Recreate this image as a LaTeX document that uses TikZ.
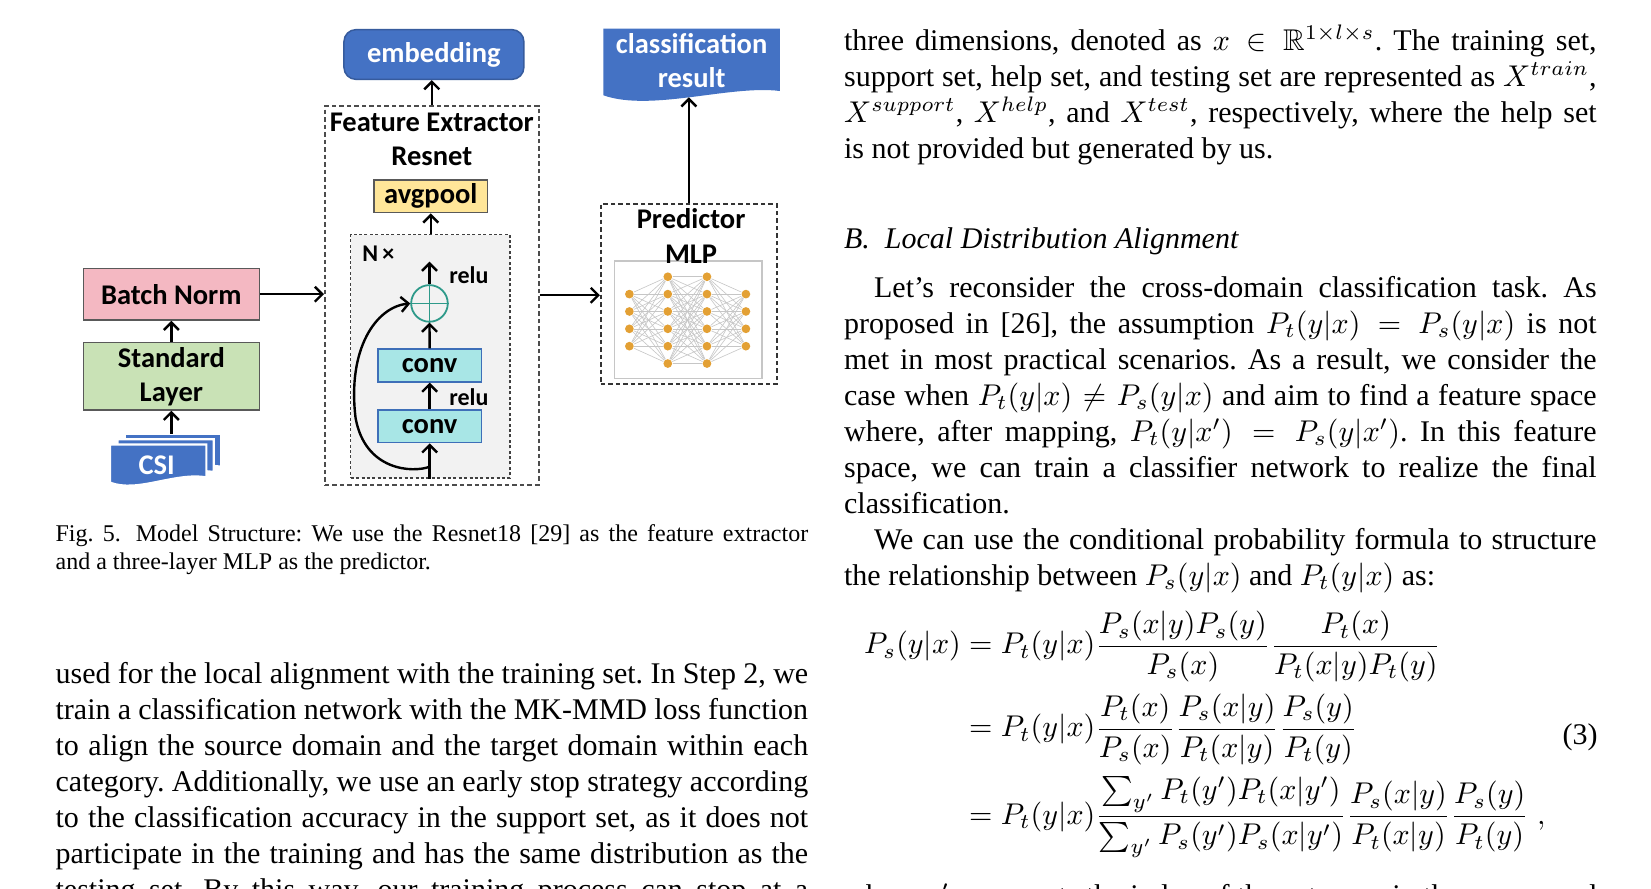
\documentclass[tikz,border=0pt]{standalone}
\usepackage{amsmath,amssymb}
\usepackage[no-math]{fontspec}
\setmainfont{Liberation Serif}
\newfontfamily\dgfont{Carlito}
\usetikzlibrary{positioning,arrows.meta}

\definecolor{cblue}{HTML}{4472C4}
\definecolor{cpink}{HTML}{F4B8C2}
\definecolor{cgreen}{HTML}{C9E2B6}
\definecolor{cyellow}{HTML}{FFE699}
\definecolor{ccyan}{HTML}{A8E6E6}
\definecolor{cconvb}{HTML}{3E6FB8}
\definecolor{cteal}{HTML}{2E9A8A}
\definecolor{corange}{HTML}{E3A034}
\definecolor{cgraybg}{HTML}{F2F2F2}

\tolerance=9999
\hyphenpenalty=10000
\exhyphenpenalty=10000
\frenchspacing

\def\pxu{0.3527pt}

\tikzset{
  lbl/.style={font=\dgfont\bfseries\fontsize{9.5}{11.4}\selectfont, align=center, inner sep=0pt},
  lblsm/.style={font=\dgfont\bfseries\fontsize{8}{9}\selectfont, inner sep=0pt},
  blk/.style={lbl, draw=gray!70!black, line width=0.5pt},
  txtpar/.style={anchor=base west, inner sep=0pt, text width=250.8pt, align=justify,
    font=\fontsize{10}{12}\selectfont},
  arr/.style={->,>={Straight Barb[length=2.5pt,width=5pt]}, line width=0.8pt},
  neuron/.style={circle, fill=corange, inner sep=0pt, minimum size=2.9pt},
  mlpedge/.style={gray!45, line width=0.2pt}
}

\begin{document}
\begin{tikzpicture}[x=0.3527pt,y=-0.3527pt]
\useasboundingbox (0,0) rectangle (1560,839.1);
\fill[white] (0,0) rectangle (1560,839.1);

% input side
\foreach \d in {2,1,0} {
\filldraw[fill=cblue, draw=white, line width=0.7pt, shift={(7*\d,-5*\d)}]
  (104,420) -- (195,420) -- (195,451) .. controls (165,446) and (130,466) .. (104,456) -- cycle;
}
\node[lbl, text=white] (csi) at (148,440) {CSI};
\coordinate (csitop) at (163,410);
\node[blk, fill=cgreen, minimum width=166.3*\pxu, minimum height=63.6*\pxu] (sl) at (161.9,355.6) {Standard\\Layer};
\node[blk, fill=cpink, minimum width=166.3*\pxu, minimum height=48.9*\pxu] (bn) at (161.9,278) {Batch Norm};
\draw[arr] (sl.south |- csitop) -- (sl.south);
\draw[arr] (sl.north) -- (bn.south);

% feature extractor
\node[draw=gray!60!black, dash pattern=on 1.5pt off 1pt, line width=0.6pt,
  minimum width=202*\pxu, minimum height=358*\pxu, inner sep=0pt] (fe) at (408,279) {};
\node[lbl] (fet) at (408,131.5) {Feature Extractor\\Resnet};
\node[blk, fill=cyellow, minimum width=107*\pxu, minimum height=31*\pxu] (pool) at (407,185.5) {avgpool};
\node[draw=gray!50!black, fill=cgraybg, dash pattern=on 1pt off 0.8pt, line width=0.5pt,
  minimum width=150.6*\pxu, minimum height=230*\pxu, inner sep=0pt] (nx) at (406.7,336.6) {};
\node[lblsm] (nxt) at (357.5,239.4) {N\,×};
\node[circle, draw=cteal, line width=0.6pt, minimum size=34.6*\pxu, inner sep=0pt] (add) at (405.8,286.7) {};
\draw[cteal, line width=0.6pt] (add.north) -- (add.south) (add.west) -- (add.east);
\node[blk, fill=ccyan, draw=cconvb, minimum width=98*\pxu, minimum height=31*\pxu] (conv1) at (406,345.3) {conv};
\node[blk, fill=ccyan, draw=cconvb, minimum width=98*\pxu, minimum height=31*\pxu] (conv2) at (406,402.7) {conv};
\node[lblsm] (relua) at (443,260) {relu};
\node[lblsm] (relub) at (443,375) {relu};
\coordinate (addout) at (405.8,247.3);
\coordinate (skip) at (406,441);
\draw[arr] (add.north) -- (addout);
\draw[arr] (conv1.north) -- (add.south);
\draw[arr] (conv2.north) -- (conv1.south);
\draw[arr] (conv2.south |- nx.south) -- (conv2.south);
\draw[arr] (skip) .. controls (390,447) and (345,445) .. (336,395)
  .. controls (328,330) and (355,290) .. (add.west);
\draw[arr] (pool.south |- nx.north) -- (pool.south);
\node[lbl, fill=cblue, draw=cblue!80!black, line width=0.5pt, rounded corners=4pt, text=white,
  minimum width=170*\pxu, minimum height=47*\pxu] (emb) at (410,51.5) {embedding};
\draw[arr] (fe.north) -- (fe.north |- emb.south);
\draw[arr] (bn.east) -- (bn.east -| fe.west);

% predictor
\node[draw=black!80, dash pattern=on 1.5pt off 1pt, line width=0.6pt,
  minimum width=166.3*\pxu, minimum height=170.2*\pxu, inner sep=0pt] (pred) at (650.9,277.9) {};
\node[draw=gray!45, line width=0.5pt, minimum width=139.4*\pxu, minimum height=111.1*\pxu,
  inner sep=0pt] (mlp) at (650.3,302) {};
\node[lbl] (predt) at (653,223) {Predictor\\MLP};
\foreach \k in {1,...,4} {
  \node[neuron] (na\k) at (594.7,{261.5+16.4*\k}) {};
  \node[neuron] (nd\k) at (704.8,{261.5+16.4*\k}) {};
}
\foreach \k in {0,...,5} {
  \node[neuron] (nb\k) at (631,{261.5+16.4*\k}) {};
  \node[neuron] (nc\k) at (668,{261.5+16.4*\k}) {};
}
\foreach \i in {1,...,4} \foreach \j in {0,...,5} {
  \draw[mlpedge] (na\i) -- (nb\j);
  \draw[mlpedge] (nc\j) -- (nd\i);
}
\foreach \i in {0,...,5} \foreach \j in {0,...,5} \draw[mlpedge] (nb\i) -- (nc\j);
\draw[arr] (fe.east) -- (fe.east -| pred.west);

% output
\fill[cblue] (570,27) -- (737,27) -- (737,86) .. controls (690,80) and (615,106) .. (570,90) -- cycle;
\node[lbl, text=white] (cls) at (653.5,57) {classification\\result};
\coordinate (clsb) at (651,92);
\draw[arr] (pred.north) -- (pred.north |- clsb);

% caption and left column
\node[txtpar, font=\fontsize{8}{9.2}\selectfont] (cap) at (52,512) {Fig.~5.\hspace{5pt}Model Structure: We use the Resnet18 [29] as the feature extractor\linebreak and a three-layer MLP as the predictor.};
\node[txtpar] (txd) at (52,646) {used for the local alignment with the training set. In Step 2, we\linebreak train a classification network with the MK-MMD loss function\linebreak to align the source domain and the target domain within each\linebreak category. Additionally, we use an early stop strategy according\linebreak to the classification accuracy in the support set, as it does not\linebreak participate in the training and has the same distribution as the\linebreak testing set. By this way, our training process can stop at a\linebreak};

% right column
\node[txtpar] (txa) at (797,47.4) {three dimensions, denoted as $x \in \mathbb{R}^{1\times l\times s}$. The training set,\linebreak support set, help set, and testing set are represented as $X^{train}$,\linebreak $X^{support}$, $X^{help}$, and $X^{test}$, respectively, where the help set\linebreak is not provided but generated by us.};
\node[txtpar, font=\itshape\fontsize{10}{12}\selectfont] (secb) at (797,235) {B.\hspace{0.5em}Local Distribution Alignment};
\node[txtpar] (txb) at (797,281) {\hspace*{1em}Let's reconsider the cross-domain classification task. As\linebreak proposed in [26], the assumption $P_t(y|x) = P_s(y|x)$ is not\linebreak met in most practical scenarios. As a result, we consider the\linebreak case when $P_t(y|x) \neq P_s(y|x)$ and aim to find a feature space\linebreak where, after mapping, $P_t(y|x') = P_s(y|x')$. In this feature\linebreak space, we can train a classifier network to realize the final\linebreak classification.\par\hspace*{1em}We can use the conditional probability formula to structure\linebreak the relationship between $P_s(y|x)$ and $P_t(y|x)$ as:};
\node[inner sep=0pt, anchor=west, font=\fontsize{10}{12}\selectfont] (eq) at (816,694) {$\displaystyle\begin{aligned}
P_s(y|x) &= P_t(y|x)\frac{P_s(x|y)P_s(y)}{P_s(x)}\frac{P_t(x)}{P_t(x|y)P_t(y)}\\
&= P_t(y|x)\frac{P_t(x)}{P_s(x)}\frac{P_s(x|y)}{P_t(x|y)}\frac{P_s(y)}{P_t(y)}\\
&= P_t(y|x)\frac{\sum_{y'}P_t(y')P_t(x|y')}{\sum_{y'}P_s(y')P_s(x|y')}\frac{P_s(x|y)}{P_t(x|y)}\frac{P_s(y)}{P_t(y)}\;,
\end{aligned}$};
\node[inner sep=0pt, anchor=east, font=\fontsize{10}{12}\selectfont] (eqno) at (1510,697) {(3)};
\node[txtpar] (txc) at (797,856) {where $y'$ represents the index of the category in the source and\linebreak};
\end{tikzpicture}
\end{document}
